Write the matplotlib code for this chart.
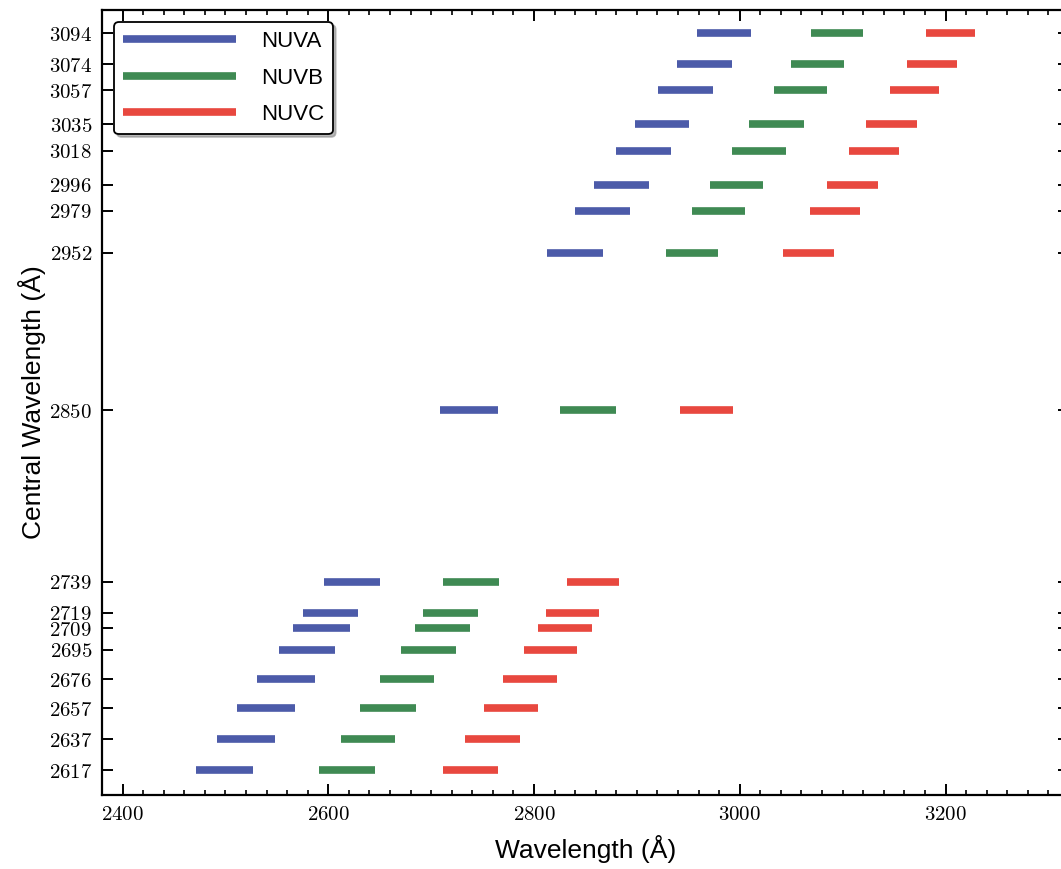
import matplotlib
matplotlib.use('Agg')
import matplotlib.pyplot as plt
from matplotlib.ticker import MultipleLocator, FuncFormatter

plt.rcParams['font.family'] = ['Liberation Sans', 'DejaVu Sans']
plt.rcParams['mathtext.fontset'] = 'cm'

# central wavelengths and the stripe coverage (start/end, Angstrom)
cenwave = [2617, 2637, 2657, 2676, 2695, 2709, 2719, 2739, 2850,
           2952, 2979, 2996, 3018, 3035, 3057, 3074, 3094]
nuva_lo = [2471, 2492, 2511, 2531, 2552, 2566, 2575, 2596, 2709,
           2813, 2840, 2858, 2880, 2898, 2921, 2939, 2958]
nuva_hi = [2527, 2548, 2568, 2587, 2607, 2621, 2629, 2650, 2765,
           2867, 2893, 2912, 2933, 2951, 2974, 2992, 3011]
nuvb_lo = [2591, 2612, 2631, 2650, 2671, 2684, 2692, 2712, 2825,
           2928, 2954, 2971, 2992, 3009, 3033, 3050, 3069]
nuvb_hi = [2645, 2665, 2685, 2703, 2724, 2738, 2746, 2766, 2880,
           2979, 3005, 3023, 3045, 3062, 3085, 3101, 3120]
nuvc_lo = [2712, 2733, 2751, 2770, 2790, 2804, 2812, 2832, 2942,
           3042, 3068, 3085, 3106, 3123, 3146, 3163, 3181]
nuvc_hi = [2765, 2786, 2804, 2822, 2842, 2856, 2863, 2883, 2993,
           3092, 3117, 3134, 3155, 3172, 3194, 3211, 3229]

stripes = [('NUVA', nuva_lo, nuva_hi, '#4c5ba9'),
           ('NUVB', nuvb_lo, nuvb_hi, '#3f8a53'),
           ('NUVC', nuvc_lo, nuvc_hi, '#e8483f')]

fig = plt.figure(figsize=(10.61, 8.69), dpi=100)
# right spine sits just outside the canvas, as in the original crop
ax = fig.add_axes([0.0961, 0.0852, 0.9114, 0.9033])

for name, lo, hi, col in stripes:
    ax.hlines(cenwave, lo, hi, colors=col, lw=5.5, label=name)

ax.set_xlim(2380, 3320)
ax.set_ylim(2601, 3109)

ax.xaxis.set_major_locator(MultipleLocator(200))
ax.xaxis.set_minor_locator(MultipleLocator(20))
ax.xaxis.set_major_formatter(FuncFormatter(lambda v, p: '$%d$' % v))
ax.set_yticks(cenwave)
ax.set_yticklabels(['$%d$' % c for c in cenwave])

ax.tick_params(which='both', direction='in', top=True, right=True,
               labelsize=15, pad=7)
ax.tick_params(which='major', length=8, width=1.4)
ax.tick_params(which='minor', length=3.5, width=1.2)
ax.tick_params(axis='y', which='minor', left=False, right=False)
for sp in ax.spines.values():
    sp.set_linewidth(1.6)

ax.set_xlabel('Wavelength (Å)', fontsize=19, labelpad=8)
ax.set_ylabel('Central Wavelength (Å)', fontsize=19, labelpad=2)

leg = ax.legend(loc='upper left', fontsize=16, handlelength=5.1,
                handletextpad=1.1, labelspacing=0.7, borderaxespad=0.55,
                borderpad=0.4, frameon=True, fancybox=True,
                shadow={'color': '0.55', 'alpha': 0.6}, framealpha=1)
leg.get_frame().set_edgecolor('black')
leg.get_frame().set_linewidth(1.3)

fig.savefig('out.png', dpi=100)
